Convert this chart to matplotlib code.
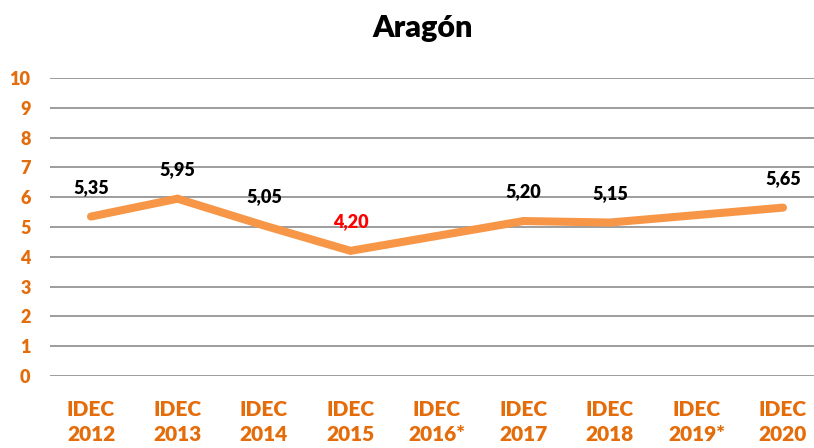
import matplotlib
matplotlib.use("Agg")
import matplotlib.pyplot as plt
import numpy as np

categories = ["IDEC\n2012", "IDEC\n2013", "IDEC\n2014", "IDEC\n2015", "IDEC\n2016*",
              "IDEC\n2017", "IDEC\n2018", "IDEC\n2019*", "IDEC\n2020"]
values = [5.35, 5.95, 5.05, 4.20, None, 5.20, 5.15, None, 5.65]
label_colors = ["black", "black", "black", "red", None, "black", "black", None, "black"]
yticks = list(range(0, 11))
title = "Aragón"

plt.rcParams['font.family'] = ['Lato', 'DejaVu Sans']
WEIGHT = "heavy"

W, H = 814, 448
fig = plt.figure(figsize=(W / 100, H / 100), dpi=100)
ax = fig.add_axes([50 / W, 1 - 376 / H, 1 - 50 / W, (376 - 78) / H])

x_all = np.arange(len(categories))
xs = [x for x, v in zip(x_all, values) if v is not None]
ys = [v for v in values if v is not None]
ax.plot(xs, ys, color="#F79646", linewidth=5.8, solid_capstyle="round",
        solid_joinstyle="miter", zorder=3)

for x, v, c in zip(x_all, values, label_colors):
    if v is None:
        continue
    ax.annotate(f"{v:.2f}".replace(".", ","), (x, v), xytext=(0, 21),
                textcoords="offset points", ha="center", va="center",
                fontsize=13, fontweight=WEIGHT, color=c, zorder=4)

ax.set_ylim(0, 10)
ax.set_xlim((50 - 91) / 86.5, (814 - 91) / 86.5)
ax.set_yticks(yticks)
ax.set_yticklabels([str(t) for t in yticks])
ax.set_xticks(x_all)
ax.set_xticklabels(categories, linespacing=1.4)
for s in ax.spines.values():
    s.set_visible(False)
ax.grid(axis="y", color="#8C8C8C", linewidth=1.2, zorder=0)
ax.tick_params(axis="both", length=0)
ax.tick_params(axis="y", pad=14, labelsize=13, labelcolor="#E46C0A")
ax.tick_params(axis="x", pad=17, labelsize=15, labelcolor="#E46C0A")
for lbl in ax.get_xticklabels() + ax.get_yticklabels():
    lbl.set_fontweight(WEIGHT)

fig.text(423 / W, 1 - 28 / H, title, ha="center", va="center",
         fontsize=22, fontweight=WEIGHT, color="black")

fig.savefig("out.png", dpi=100)
